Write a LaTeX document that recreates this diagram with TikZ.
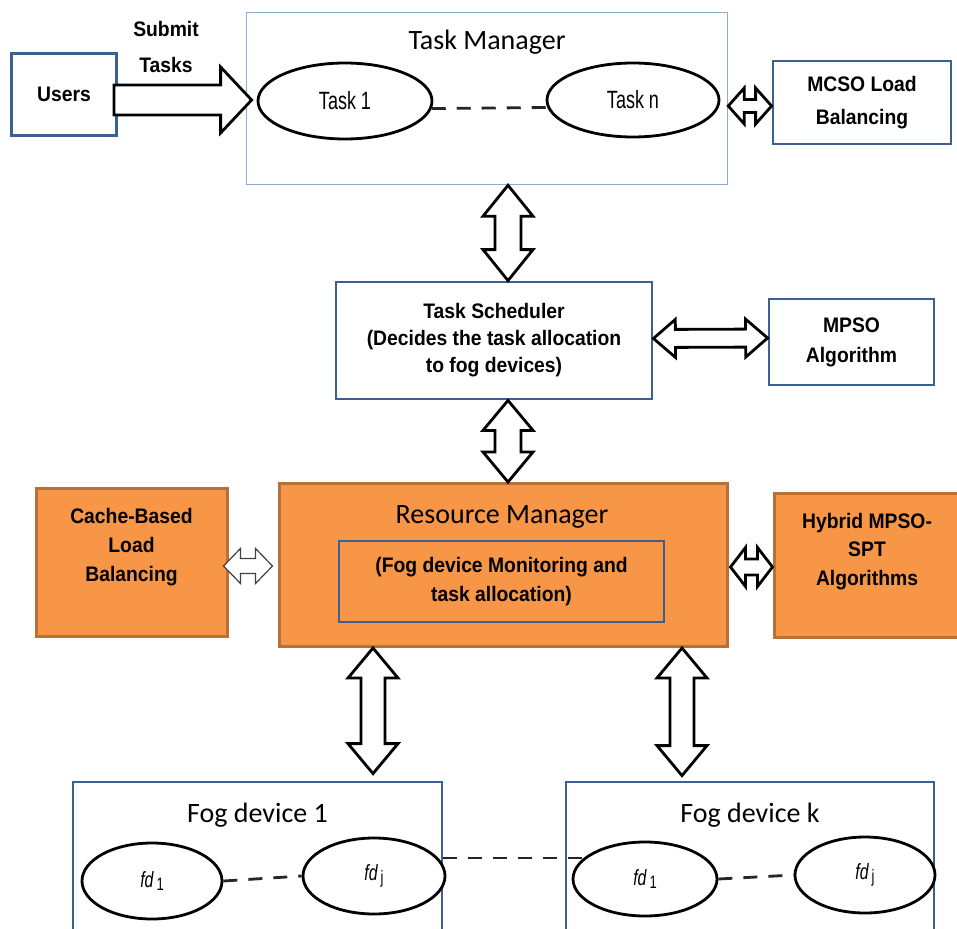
\documentclass[tikz,border=0pt]{standalone}
\usepackage{fontspec}
\setmainfont{Liberation Sans}
\newfontfamily\boldn[FakeStretch=0.92]{Liberation Sans}
\newfontfamily\narrowreg[FakeStretch=0.72]{Liberation Sans}
\newfontfamily\carl{Carlito}
\usetikzlibrary{shapes.geometric,calc}
\definecolor{boxblue}{RGB}{60,96,146}
\definecolor{tmblue}{RGB}{140,172,210}
\definecolor{orfill}{RGB}{247,150,70}
\definecolor{orborder}{RGB}{185,112,52}
\definecolor{innerblue}{RGB}{60,96,146}
\tikzset{
  bluebox/.style={draw=boxblue, line width=2.8pt, fill=white, inner sep=0pt},
  fogbox/.style={draw=boxblue, line width=2.8pt, inner sep=0pt},
  orangebox/.style={draw=orborder, line width=3pt, fill=orfill, inner sep=0pt},
  btxt/.style={font=\boldn\bfseries\fontsize{21}{28}\selectfont, align=center},
  ttl/.style={font=\carl\fontsize{28}{34}\selectfont, anchor=base},
  ell/.style={ellipse, draw=black, line width=2.8pt, fill=white, inner sep=0pt, font=\narrowreg\fontsize{25}{30}\selectfont},
  fdell/.style={ellipse, draw=black, line width=2.8pt, fill=white, inner sep=0pt, font=\narrowreg\fontsize{22}{26}\selectfont},
  fat/.style={draw=black, line width=2.8pt, fill=white, line join=miter},
  thinfat/.style={draw=black!75, line width=1.2pt, fill=white, line join=miter},
  dsh/.style={draw=black!85, line width=2.8pt, dash pattern=on 14pt off 11pt}
}
% double fat arrow: style, from, to, shaft half, head half, head length
\newcommand\fatdbl[6]{%
  \coordinate (fa) at (#2);
  \coordinate (fb) at (#3);
  \coordinate (fc) at ($(fa)!#6!(fb)$);
  \coordinate (fd) at ($(fb)!#6!(fa)$);
  \draw[#1] (fa) -- ($(fc)!#5!90:(fb)$) -- ($(fc)!#4!90:(fb)$) -- ($(fd)!#4!-90:(fa)$)
    -- ($(fd)!#5!-90:(fa)$) -- (fb) -- ($(fd)!#5!90:(fa)$) -- ($(fd)!#4!90:(fa)$)
    -- ($(fc)!#4!-90:(fb)$) -- ($(fc)!#5!-90:(fb)$) -- cycle;}
% single fat arrow
\newcommand\fatsgl[6]{%
  \coordinate (fa) at (#2);
  \coordinate (fb) at (#3);
  \coordinate (fd) at ($(fb)!#6!(fa)$);
  \draw[#1] ($(fa)!#4!90:(fb)$) -- ($(fd)!#4!-90:(fa)$) -- ($(fd)!#5!-90:(fa)$) -- (fb)
    -- ($(fd)!#5!90:(fa)$) -- ($(fd)!#4!90:(fa)$) -- ($(fa)!#4!-90:(fb)$) -- cycle;}
\newcommand\fdlab[1]{{\itshape fd}\raisebox{-3pt}{\fontsize{18}{18}\selectfont\,#1}}
\begin{document}
\begin{tikzpicture}[x=1pt,y=-1pt]
\path[use as bounding box, fill=white] (0,0) rectangle (957,928);
\clip (0,0) rectangle (957,928);

% --- top row
\node[bluebox, btxt, minimum width=105pt, minimum height=82pt] (users) at (64,94.5) {Users};
\node[font=\boldn\bfseries\fontsize{21}{36}\selectfont, align=center] (submit) at (166,47) {Submit\\Tasks};
\node[draw=tmblue, line width=1.5pt, fill=white, minimum width=481pt, minimum height=172pt] (tm) at (487,98.5) {};
\node[ttl] (tmt) at (487,50) {Task Manager};
\node[ell, minimum width=174pt, minimum height=76pt] (task1) at (345,101) {Task 1};
\node[ell, minimum width=172pt, minimum height=74pt] (taskn) at (633,100) {Task n};
\node[bluebox, font=\boldn\bfseries\fontsize{21}{33}\selectfont, align=center, minimum width=178pt, minimum height=83pt] (mcso) at (862,102.5) {MCSO Load\\Balancing};

% --- scheduler row
\node[bluebox, font=\boldn\bfseries\fontsize{21}{27}\selectfont, align=center, minimum width=316pt, minimum height=117pt] (ts) at (494,340.5) {Task Scheduler\\(Decides the task allocation\\to fog devices)};
\node[bluebox, font=\boldn\bfseries\fontsize{21}{30}\selectfont, align=center, minimum width=165pt, minimum height=86pt] (mpso) at (851.5,342) {MPSO\\Algorithm};

% --- resource manager row
\node[orangebox, minimum width=448pt, minimum height=163pt] (rm) at (503,565) {};
\node[ttl] (rmt) at (502,523) {Resource Manager};
\node[draw=innerblue, line width=2pt, fill=orfill, inner sep=0pt, minimum width=325pt, minimum height=81pt, font=\boldn\bfseries\fontsize{21}{29}\selectfont, align=center] (inner) at (501.5,581.5) {(Fog device Monitoring and\\task allocation)};
\node[orangebox, minimum width=191pt, minimum height=148pt] (cache) at (131.5,562) {};
\node[font=\boldn\bfseries\fontsize{21}{29}\selectfont, align=center] (cachet) at (131.5,547) {Cache-Based\\Load\\Balancing};
\node[orangebox, minimum width=186pt, minimum height=144pt] (hybrid) at (867,565) {};
\node[font=\boldn\bfseries\fontsize{21}{28.5}\selectfont, align=center] (hybridt) at (867,551.5) {Hybrid MPSO-\\SPT\\Algorithms};

% --- fog devices
\node[fogbox, minimum width=369pt, minimum height=156pt] (fog1) at (257.5,860) {};
\node[ttl] (fog1t) at (257.5,822) {Fog device 1};
\node[fogbox, minimum width=368pt, minimum height=156pt] (fogk) at (750,860) {};
\node[ttl] (fogkt) at (750,822) {Fog device k};
\draw[dsh] ($(fog1.east)+(0,-2)$) -- ($(fogk.west)+(79,-2)$);

\node[fdell, minimum width=140pt, minimum height=76pt] (f11) at (152,881) {\fdlab{1}};
\node[fdell, minimum width=142pt, minimum height=76pt] (f1j) at (374,876) {\fdlab{j}};
\node[fdell, minimum width=144pt, minimum height=74pt] (fk1) at (645,879) {\fdlab{1}};
\node[fdell, minimum width=140pt, minimum height=76pt] (fkj) at (865,875) {\fdlab{j}};
\draw[dsh] (f11.east) -- (f1j.west);
\draw[dsh] (fk1.east) -- (fkj.west);
\draw[dsh] (task1.-5) -- (taskn.185);

% --- fat arrows
\fatsgl{fat}{$(users.east)+(-4,5.5)$}{$(task1.west)+(-5,-1)$}{15pt}{33pt}{31pt}
\fatdbl{fat}{$(tm.east)+(0,7.5)$}{$(mcso.west)+(0,3.5)$}{6.5pt}{18pt}{16pt}
\fatdbl{fat}{$(tm.south)+(21,0)$}{$(ts.north)+(14,0)$}{13pt}{25pt}{31pt}
\fatdbl{fat}{$(ts.east)+(0,-2)$}{$(mpso.west)+(0,-4)$}{9pt}{19pt}{22pt}
\fatdbl{fat}{$(ts.south)+(14,0)$}{$(rm.north)+(5,0)$}{13pt}{25pt}{30pt}
\fatdbl{thinfat}{$(cache.east)+(-5,4)$}{$(rm.west)+(-5,1)$}{7.5pt}{17.5pt}{17pt}
\fatdbl{fat}{$(rm.east)+(2,2)$}{$(hybrid.west)+(0,2)$}{8pt}{19.5pt}{15pt}
\fatdbl{fat}{$(rm.south)+(-130,0)$}{$(fog1.north)+(115.5,-7)$}{12pt}{25pt}{30pt}
\fatdbl{fat}{$(rm.south)+(179,0)$}{$(fogk.north)+(-68,-5)$}{12pt}{25pt}{30pt}
\end{tikzpicture}
\end{document}
